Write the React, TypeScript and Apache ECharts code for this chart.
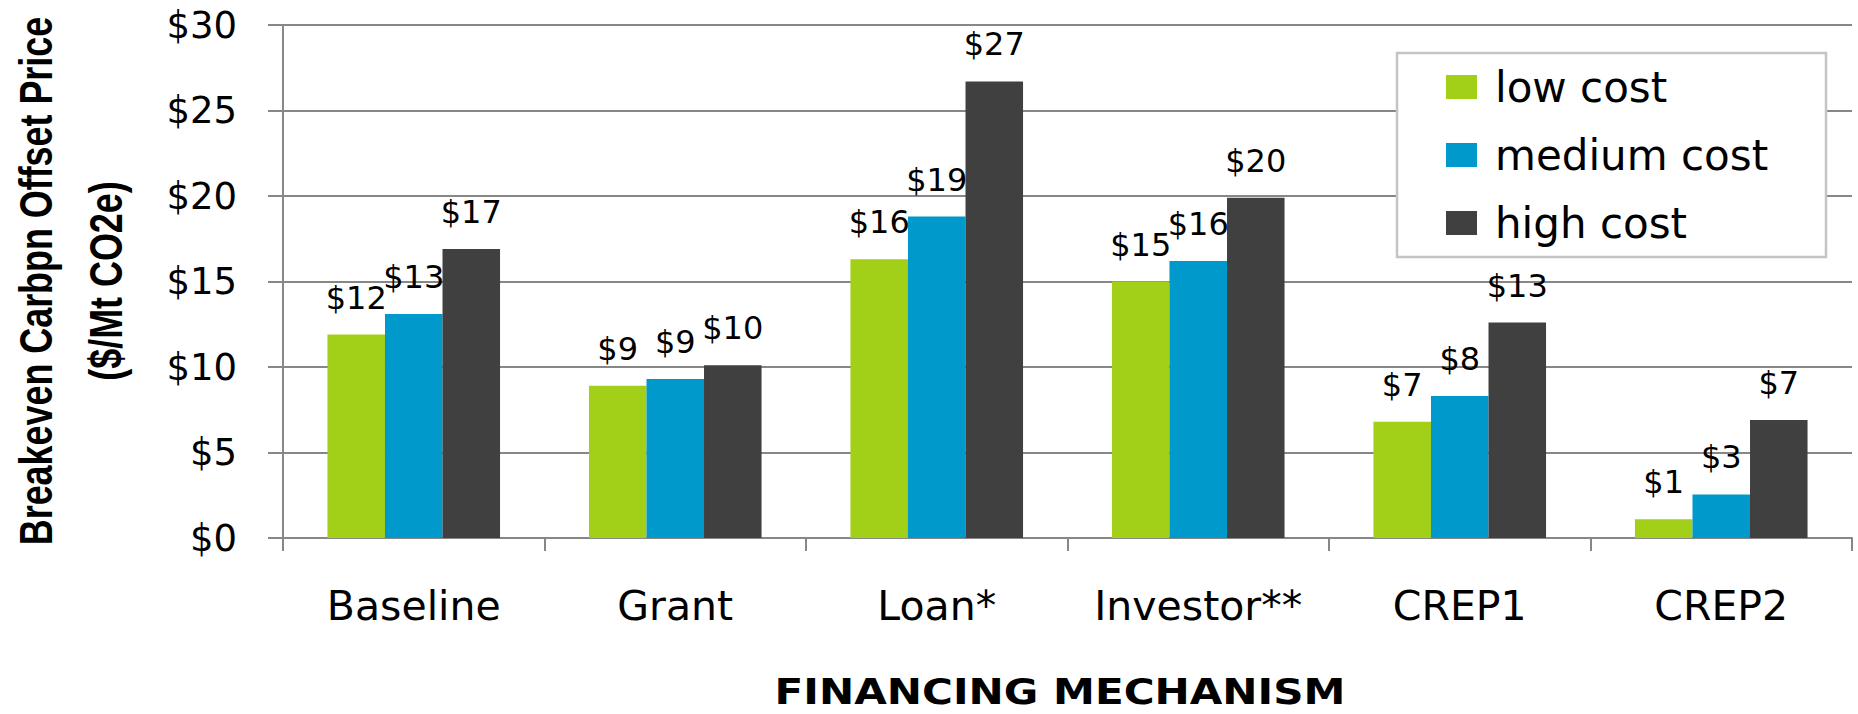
import React, { useEffect, useRef } from "react";
import * as echarts from "echarts";

const categories = ["Baseline", "Grant", "Loan*", "Investor**", "CREP1", "CREP2"];
const lowCost = [11.9, 8.9, 16.3, 15.0, 6.8, 1.1];
const mediumCost = [13.1, 9.3, 18.8, 16.2, 8.3, 2.55];
const highCost = [16.9, 10.1, 26.7, 19.9, 12.6, 6.9];
const seriesNames = ["low cost", "medium cost", "high cost"];
const colors = ["#a2cf17", "#0099cc", "#404040"];
const yTitle1 = "Breakeven Carbpn Offset Price";
const yTitle2 = "($/Mt CO2e)";
const xTitle = "FINANCING MECHANISM";

export default function App() {
  const ref = useRef<HTMLDivElement>(null);
  useEffect(() => {
    document.body.style.margin = "0";
    const chart = echarts.init(ref.current!, null, { renderer: "svg" });
    const gray = "#878787";
    const labelOpt = {
      show: true,
      position: "top",
      distance: 21,
      color: "#000",
      fontFamily: "DejaVu Sans",
      fontSize: 32,
      formatter: (p: any) => "$" + Math.round(p.value),
    };
    const datasets = [lowCost, mediumCost, highCost];
    chart.setOption({
      animation: false,
      backgroundColor: "#fff",
      grid: { left: 283, right: 6, top: 25, bottom: 176, containLabel: false },
      xAxis: {
        type: "category",
        data: categories,
        axisLine: { lineStyle: { color: gray, width: 2 } },
        axisTick: { show: true, interval: 0, length: 13, lineStyle: { color: gray, width: 2 } },
        axisLabel: {
          interval: 0,
          hideOverlap: false,
          color: "#000",
          fontFamily: "DejaVu Sans",
          fontSize: 41,
          margin: 47,
        },
      },
      yAxis: {
        type: "value",
        min: 0,
        max: 30,
        interval: 5,
        axisLine: { show: true, lineStyle: { color: gray, width: 2 } },
        axisTick: { show: true, length: 15, lineStyle: { color: gray, width: 2 } },
        splitLine: { show: true, lineStyle: { color: gray, width: 1.8 } },
        axisLabel: {
          color: "#000",
          fontFamily: "DejaVu Sans",
          fontSize: 37,
          margin: 46,
          formatter: (v: number) => "$" + v,
        },
      },
      legend: {
        orient: "vertical",
        left: 1446,
        top: 63,
        padding: 0,
        itemWidth: 31,
        itemHeight: 24,
        itemGap: 20,
        z: 5,
        data: seriesNames.map((n) => ({ name: n, icon: "rect" })),
        textStyle: {
          color: "#000",
          fontFamily: "DejaVu Sans",
          fontSize: 42,
          lineHeight: 48,
          padding: [0, 0, 0, 13],
        },
      },
      graphic: [
        {
          type: "rect",
          z: 3,
          shape: { x: 1397, y: 53, width: 429, height: 204 },
          style: { fill: "#fff", stroke: "#c4c4c4", lineWidth: 2.5 },
        },
        {
          type: "text",
          x: 36,
          y: 281,
          rotation: Math.PI / 2,
          scaleX: 0.78,
          style: {
            text: yTitle1,
            fill: "#000",
            font: "bold 46px 'Liberation Sans', Arial, sans-serif",
            textAlign: "center",
            textVerticalAlign: "middle",
          },
        },
        {
          type: "text",
          x: 106,
          y: 281,
          rotation: Math.PI / 2,
          scaleX: 0.78,
          style: {
            text: yTitle2,
            fill: "#000",
            font: "bold 46px 'Liberation Sans', Arial, sans-serif",
            textAlign: "center",
            textVerticalAlign: "middle",
          },
        },
        {
          type: "text",
          x: 1060,
          y: 692,
          scaleX: 1.17,
          style: {
            text: xTitle,
            fill: "#000",
            font: "bold 36px 'DejaVu Sans', sans-serif",
            textAlign: "center",
            textVerticalAlign: "middle",
          },
        },
      ],
      series: seriesNames.map((name, i) => ({
        name,
        type: "bar",
        data: datasets[i],
        barGap: "0%",
        barCategoryGap: "34%",
        itemStyle: { color: colors[i] },
        label: labelOpt,
      })),
    });
    return () => chart.dispose();
  }, []);
  return (
    <div
      ref={ref}
      style={{ position: "absolute", left: 0, top: 0, width: 1858, height: 714 }}
    />
  );
}
